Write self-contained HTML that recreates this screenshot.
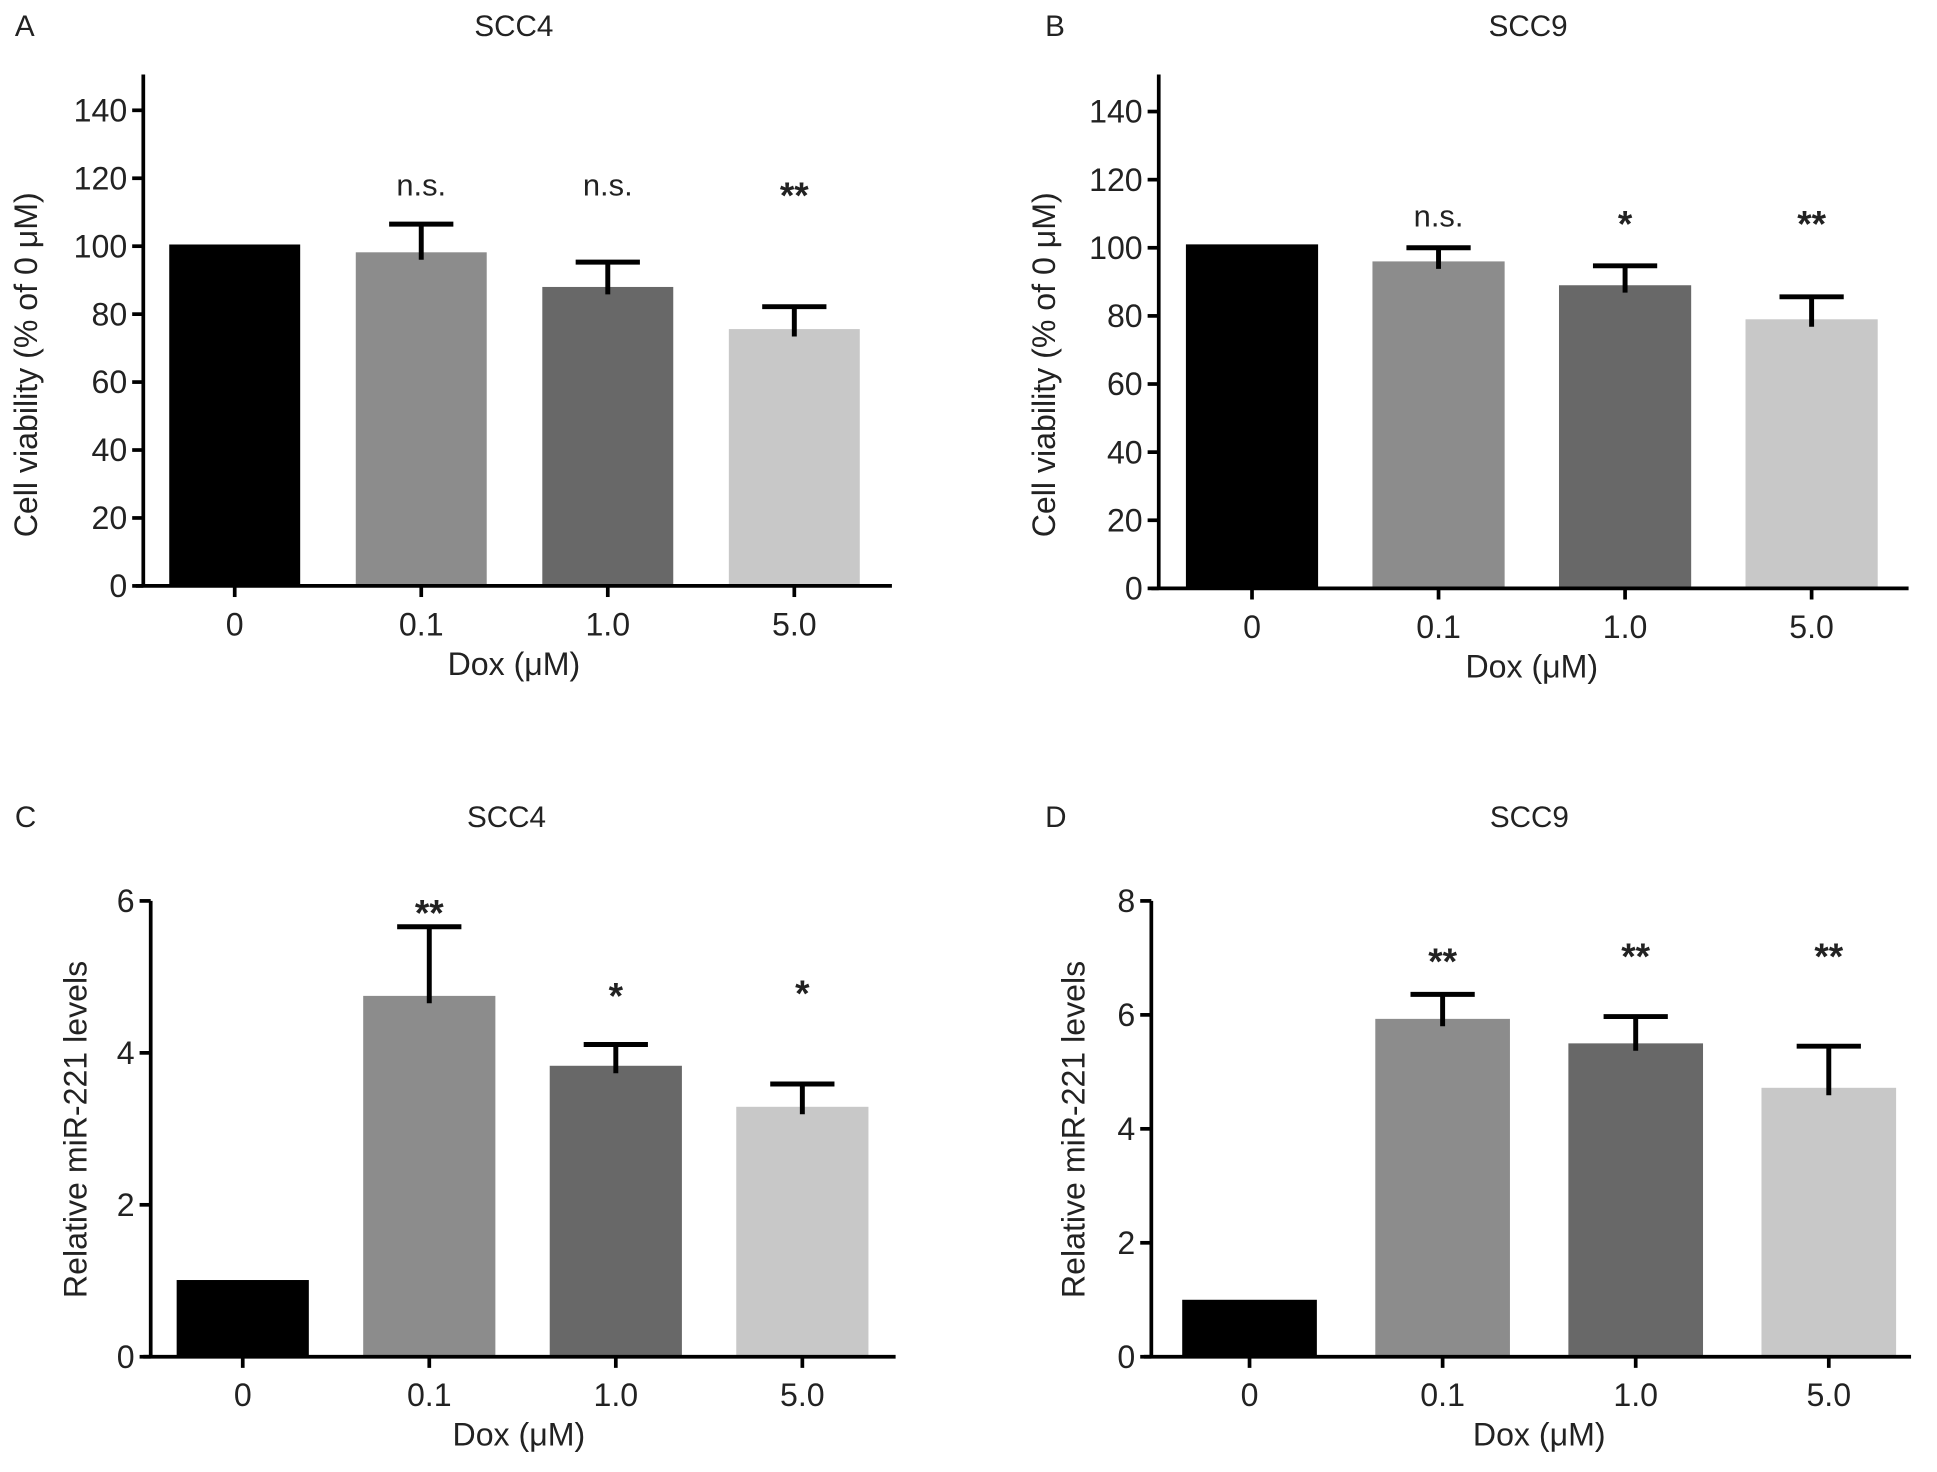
<!DOCTYPE html>
<html><head><meta charset="utf-8"><style>
html,body{margin:0;padding:0;background:#fff;}
svg{display:block;font-family:"Liberation Sans",Arial,sans-serif;}
</style></head><body>
<svg id="fig" width="1937" height="1472" viewBox="0 0 1568 1191" xmlns="http://www.w3.org/2000/svg"></svg>
<script>
const categories = ["0","0.1","1.0","5.0"];
const barColors = ["#000000","#8c8c8c","#686868","#c8c8c8"];
// Panel A
const aValues = [100.5, 98.2, 88, 75.6];
const aErrors = [0, 8.3, 7.3, 6.6];
const aSig = ["", "n.s.", "n.s.", "**"];
const aTicks = [0,20,40,60,80,100,120,140];
// Panel B
const bValues = [101, 96, 89, 79];
const bErrors = [0, 4, 5.7, 6.6];
const bSig = ["", "n.s.", "*", "**"];
const bTicks = [0,20,40,60,80,100,120,140];
// Panel C
const cValues = [1.01, 4.75, 3.83, 3.29];
const cErrors = [0, 0.91, 0.28, 0.3];
const cSig = ["", "**", "*", "*"];
const cTicks = [0,2,4,6];
// Panel D
const dValues = [1.0, 5.93, 5.5, 4.72];
const dErrors = [0, 0.43, 0.47, 0.73];
const dSig = ["", "**", "**", "**"];
const dTicks = [0,2,4,6,8];

const NS="http://www.w3.org/2000/svg";
const svg=document.getElementById('fig');
function mk(tag,attrs,parent){const e=document.createElementNS(NS,tag);for(const k in attrs)e.setAttribute(k,attrs[k]);(parent||svg).appendChild(e);return e;}

function panel(o){
  const g=mk('g',{});
  
  
  const y=v=>o.y0-(v-0)*(o.y0-o.yTopTick)/o.tickMax;
  const x=i=>o.barL+i*o.step+o.bw/2;
  let t=mk('text',{x:o.letterX,y:o.titleY,'font-size':24,fill:'#222'},g);t.textContent=o.letter;
  
  
  t=mk('text',{x:o.titleX,y:o.titleY,'font-size':24,'text-anchor':'middle',fill:'#222'},g);t.textContent=o.title;
  
  
  o.values.forEach((v,i)=>{
    const r=mk('rect',{x:o.barL+i*o.step,y:y(v),width:o.bw,height:o.y0-y(v),fill:barColors[i]},g);
    
    
    if(o.errors[i]>0){
      const e=mk('path',{d:`M${x(i)} ${y(v)+6}V${y(v+o.errors[i])}M${x(i)-26} ${y(v+o.errors[i])}H${x(i)+26}`,stroke:'#000','stroke-width':4,fill:'none'},g);
      
      
    }
    if(o.sig[i]){
      const isStar=o.sig[i].indexOf('*')>=0;
      const s=mk('text',{x:x(i),y:o.sigY[i]+(isStar?8:0),'font-size':isStar?30:25,'font-weight':isStar?'bold':'normal','text-anchor':'middle',fill:'#222'},g);
      s.textContent=o.sig[i];
      
      
    }
  });
  const ax=mk('path',{d:`M${o.axX} ${o.axTop}V${o.y0}M${o.axX-6} ${o.y0}H${o.axRight}`,stroke:'#000','stroke-width':3,fill:'none'},g);
  
  
  o.ticks.forEach(tv=>{
    mk('line',{x1:o.axX-9,x2:o.axX,y1:y(tv),y2:y(tv),stroke:'#000','stroke-width':3},g);
    const l=mk('text',{x:o.axX-13,y:y(tv)+9,'font-size':26,'text-anchor':'end',fill:'#222'},g);l.textContent=tv;
    
    
  });
  categories.forEach((c,i)=>{
    mk('line',{x1:x(i),x2:x(i),y1:o.y0,y2:o.y0+9,stroke:'#000','stroke-width':3},g);
    const l=mk('text',{x:x(i),y:o.y0+40,'font-size':26,'text-anchor':'middle',fill:'#222'},g);l.textContent=c;
    
    
  });
  t=mk('text',{x:o.xTitleX,y:o.y0+72,'font-size':26,'text-anchor':'middle',fill:'#222'},g);t.textContent='Dox (\u03bcM)';
  
  
  t=mk('text',{x:0,y:0,'font-size':26,'text-anchor':'middle',fill:'#222',transform:`translate(${o.yTitleX},${o.yTitleY}) rotate(-90)`},g);t.textContent=o.yTitle;
  
  
}

panel({id:'panel-a',letter:'A',letterX:12,title:'SCC4',titleX:416,titleY:29,values:aValues,errors:aErrors,sig:aSig,sigY:[0,158,158,160],ticks:aTicks,tickMax:140,y0:474,yTopTick:89,axX:116,axTop:60,axRight:722,barL:137,step:151,bw:106,xTitleX:416,yTitleX:30,yTitleY:295,yTitle:'Cell viability (% of 0 \u03bcM)'});
panel({id:'panel-b',letter:'B',letterX:846,title:'SCC9',titleX:1237,titleY:29,values:bValues,errors:bErrors,sig:bSig,sigY:[0,183,183,183],ticks:bTicks,tickMax:140,y0:476,yTopTick:90,axX:938,axTop:60,axRight:1545,barL:960,step:151,bw:107,xTitleX:1240,yTitleX:854,yTitleY:295,yTitle:'Cell viability (% of 0 \u03bcM)'});
panel({id:'panel-c',letter:'C',letterX:12,title:'SCC4',titleX:410,titleY:669,values:cValues,errors:cErrors,sig:cSig,sigY:[0,741,808,806],ticks:cTicks,tickMax:6,y0:1098,yTopTick:729,axX:122,axTop:729,axRight:725,barL:143,step:151,bw:107,xTitleX:420,yTitleX:70,yTitleY:914,yTitle:'Relative miR-221 levels'});
panel({id:'panel-d',letter:'D',letterX:846,title:'SCC9',titleX:1238,titleY:669,values:dValues,errors:dErrors,sig:dSig,sigY:[0,780,776,776],ticks:dTicks,tickMax:8,y0:1098,yTopTick:729,axX:932,axTop:729,axRight:1547,barL:957,step:156.3,bw:109,xTitleX:1246,yTitleX:878,yTitleY:914,yTitle:'Relative miR-221 levels'});
</script>
</body></html>
